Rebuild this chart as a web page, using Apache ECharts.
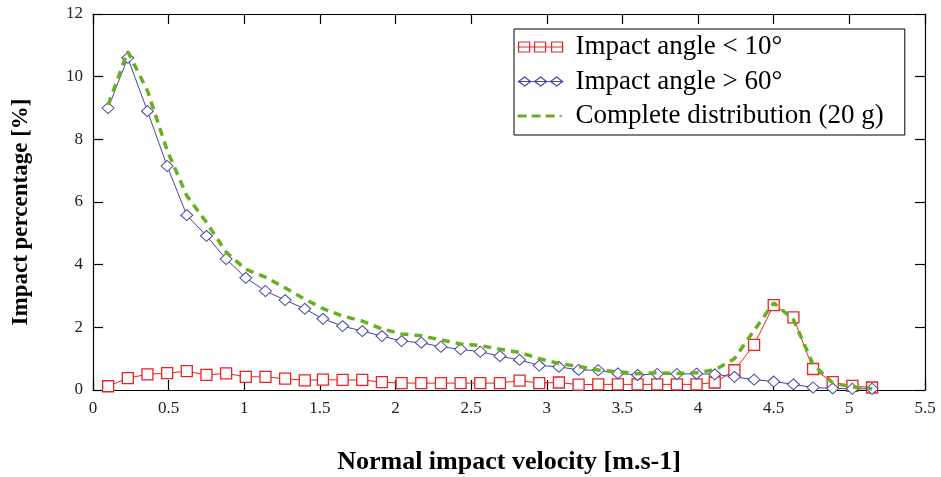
<!DOCTYPE html>
<html>
<head>
<meta charset="utf-8">
<script src="https://cdn.jsdelivr.net/npm/echarts@6/dist/echarts.min.js"></script>
<style>
html,body{margin:0;padding:0;background:#fff;}
#chart{width:941px;height:477px;}
</style>
</head>
<body>
<div id="chart"></div>
<script>
// Data
const velocities = [0.10,0.23,0.36,0.49,0.62,0.75,0.88,1.01,1.14,1.27,1.40,1.52,1.65,1.78,1.91,2.04,2.17,2.30,2.43,2.56,2.69,2.82,2.95,3.08,3.21,3.34,3.47,3.60,3.73,3.86,3.99,4.11,4.24,4.37,4.50,4.63,4.76,4.89,5.02,5.15];
const angleBelow10 = [0.12,0.38,0.50,0.54,0.60,0.48,0.53,0.42,0.42,0.36,0.31,0.33,0.32,0.32,0.25,0.22,0.22,0.22,0.22,0.22,0.22,0.30,0.22,0.24,0.17,0.18,0.18,0.18,0.18,0.18,0.18,0.24,0.63,1.44,2.71,2.32,0.67,0.25,0.13,0.08];
const angleAbove60 = [9.0,10.6,8.9,7.15,5.58,4.92,4.18,3.58,3.16,2.87,2.59,2.27,2.04,1.88,1.72,1.56,1.51,1.38,1.30,1.22,1.08,0.96,0.78,0.74,0.64,0.63,0.53,0.48,0.51,0.51,0.52,0.50,0.42,0.33,0.27,0.18,0.08,0.05,0.04,0.04];
const completeDist = [9.1,10.8,9.55,7.65,6.2,5.35,4.4,3.85,3.6,3.26,2.9,2.6,2.36,2.2,1.95,1.79,1.73,1.6,1.47,1.42,1.3,1.2,1.0,0.85,0.75,0.64,0.58,0.52,0.55,0.53,0.55,0.64,1.0,1.9,2.78,2.25,0.82,0.22,0.1,0.04];
const seriesNames = ['Impact angle < 10°','Impact angle > 60°','Complete distribution (20 g)'];
const xTitle = 'Normal impact velocity [m.s-1]';
const yTitle = 'Impact percentage [%]';

const pairs = (ys) => velocities.map((v, i) => [v, ys[i]]);
const serif = '"Liberation Serif","DejaVu Serif",serif';
const RED = '#ee2020', BLUE = '#4545a5', GREEN = '#66b020';

// legend icons: line with three markers (box 53 x 12, drawing within 0..46)
const iconRed = 'path://M0 0 L0 0 M53 12 L53 12 M0 6 L46 6 M1 1 H12 V11 H1 Z M17 1 H28 V11 H17 Z M34 1 H45 V11 H34 Z';
const iconBlue = 'path://M0 0 L0 0 M53 12 L53 12 M0 6 L46 6 M1 6 L7 1.5 L13 6 L7 10.5 Z M17 6 L23 1.5 L29 6 L23 10.5 Z M33 6 L39 1.5 L45 6 L39 10.5 Z';
const iconGreen = 'path://M0 0 L0 0 M53 12 L53 12 M0 4.5 H9 V7.5 H0 Z M14 4.5 H23 V7.5 H14 Z M28 4.5 H37 V7.5 H28 Z M42 5 H44 V7 H42 Z';

const chart = echarts.init(document.getElementById('chart'), null, {renderer:'canvas'});
const axisCommon = {
  axisLine:{show:true, onZero:false, lineStyle:{color:'#000', width:1.2}},
  axisTick:{show:true, inside:true, length:10, lineStyle:{color:'#000', width:1.2}},
  splitLine:{show:false}
};
chart.setOption({
  animation:false,
  backgroundColor:'#fff',
  grid:{left:93, right:16, top:14, bottom:87, containLabel:false, outerBoundsMode:'none'},
  legend:{
    orient:'vertical', left:514, top:29,
    data:[
      {name:seriesNames[0], icon:iconRed, itemStyle:{color:'rgba(0,0,0,0)', borderColor:RED, borderWidth:1.2}},
      {name:seriesNames[1], icon:iconBlue, itemStyle:{color:'rgba(0,0,0,0)', borderColor:BLUE, borderWidth:1.2}},
      {name:seriesNames[2], icon:iconGreen, itemStyle:{color:GREEN, borderWidth:0}}
    ],
    itemWidth:53, itemHeight:12, itemGap:7.5,
    padding:[4.5,21,5.5,3],
    borderColor:'#000', borderWidth:1,
    backgroundColor:'#fff',
    textStyle:{fontFamily:serif, fontSize:27, color:'#000', lineHeight:27}
  },
  xAxis:[
    Object.assign({}, axisCommon, {
      type:'value', min:0, max:5.5, interval:0.5, position:'bottom',
      name:xTitle, nameLocation:'middle', nameGap:59,
      nameTextStyle:{fontFamily:serif, fontSize:26, fontWeight:'bold', color:'#000'},
      axisLabel:{fontFamily:serif, fontSize:17, color:'#222', margin:10}
    }),
    Object.assign({}, axisCommon, {
      type:'value', min:0, max:5.5, interval:0.5, position:'top',
      axisLabel:{show:false}
    })
  ],
  yAxis:[
    Object.assign({}, axisCommon, {
      type:'value', min:0, max:12, interval:2, position:'left',
      name:yTitle, nameLocation:'middle', nameGap:60, nameRotate:90,
      nameTextStyle:{fontFamily:serif, fontSize:23, fontWeight:'bold', color:'#000', padding:[0,20,0,0]},
      axisLabel:{fontFamily:serif, fontSize:17, color:'#222', margin:10}
    }),
    Object.assign({}, axisCommon, {
      type:'value', min:0, max:12, interval:2, position:'right',
      axisLabel:{show:false}
    })
  ],
  series:[
    {
      name:seriesNames[0], type:'line', data:pairs(angleBelow10),
      symbol:'rect', symbolSize:11, showSymbol:true,
      lineStyle:{color:RED, width:1},
      itemStyle:{color:'#fff', borderColor:RED, borderWidth:1.3},
      z:2
    },
    {
      name:seriesNames[1], type:'line', data:pairs(angleAbove60),
      symbol:'diamond', symbolSize:[12,11], showSymbol:true,
      lineStyle:{color:BLUE, width:1},
      itemStyle:{color:'#fff', borderColor:BLUE, borderWidth:1},
      z:3
    },
    {
      name:seriesNames[2], type:'line', data:pairs(completeDist),
      symbol:'none', showSymbol:false,
      lineStyle:{color:GREEN, width:3.5, type:[8,6]},
      itemStyle:{color:GREEN},
      z:4
    }
  ]
});
</script>
</body>
</html>
